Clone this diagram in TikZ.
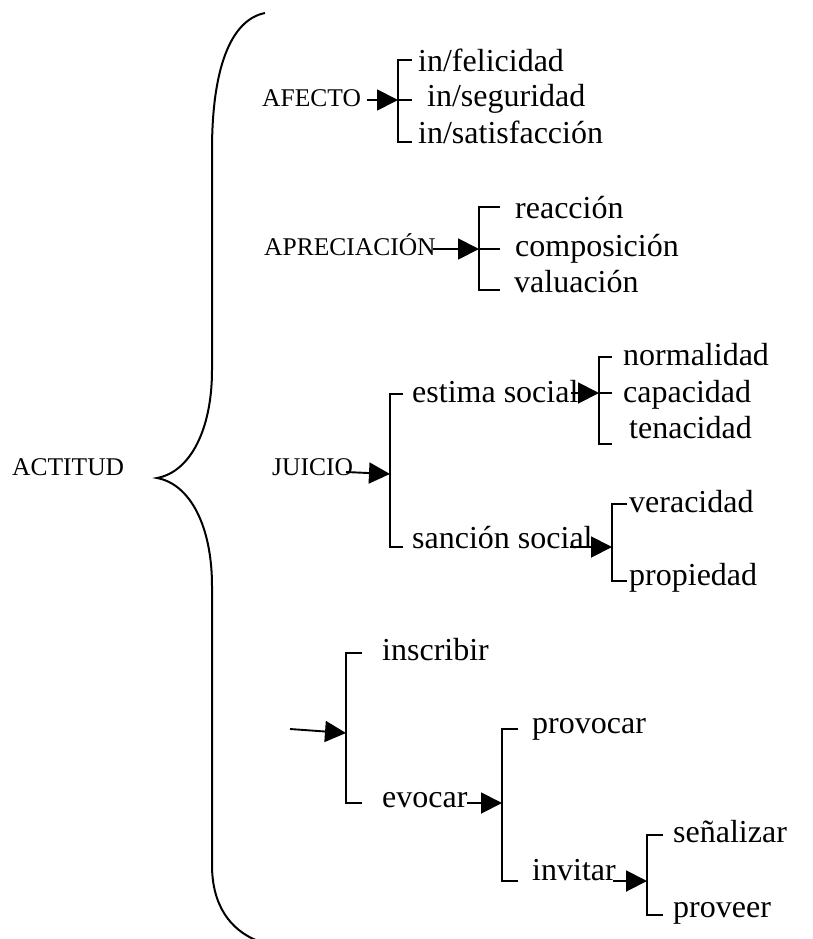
\documentclass[tikz,border=0pt]{standalone}
\usepackage{fontspec}
\setmainfont{Liberation Serif}
\usetikzlibrary{arrows.meta}
\begin{document}
\begin{tikzpicture}[x=1pt,y=-1pt,
  big/.style={font=\fontsize{32}{38}\selectfont, inner sep=0pt, anchor=base west},
  small/.style={font=\fontsize{25.5}{30}\selectfont, inner sep=0pt, anchor=base west},
  link/.style={line width=1.9pt, -{Triangle[length=21pt,width=21pt]}},
  brk/.style={line width=1.9pt},
  brace/.style={line width=2pt}]
\useasboundingbox (0,0) rectangle (812,939);

% the large brace
\draw[brace] (265,13) .. controls (230,20) and (212,70) .. (212,150)
  -- (212,370) .. controls (212,430) and (190,472) .. (157,478)
  .. controls (190,484) and (212,526) .. (212,586)
  -- (212,865) .. controls (212,905) and (230,930) .. (258,941);
\node[small] (actitud) at (12,475) {ACTITUD};

% AFECTO
\node[small] (afecto) at (262,107) {AFECTO};
\coordinate (afS) at (367,100);
\coordinate (afJ) at (398,100);
\draw[link] (afS) -- (afJ);
\draw[brk] (412,60) -- (398,60) -- (398,142) -- (412,142);
\draw[brk] (afJ) -- (412,100);
\node[big] (fel) at (418,72) {in/felicidad};
\node[big] (seg) at (427,107) {in/seguridad};
\node[big] (sat) at (418,143) {in/satisfacción};

% APRECIACIÓN
\node[small] (apre) at (264,255) {APRECIACIÓN};
\coordinate (apS) at (433,249);
\coordinate (apJ) at (479,249);
\draw[link] (apS) -- (apJ);
\draw[brk] (500,207) -- (479,207) -- (479,290) -- (500,290);
\draw[brk] (apJ) -- (500,249);
\node[big] (reac) at (515,218) {reacción};
\node[big] (comp) at (515,256) {composición};
\node[big] (valu) at (514,292) {valuación};

% JUICIO
\node[small] (juicio) at (272,475) {JUICIO};
\coordinate (juS) at (346,472);
\coordinate (juJ) at (390,474);
\draw[link] (juS) -- (juJ);
\draw[brk] (403,394) -- (390,394) -- (390,547) -- (403,547);
\node[big] (estima) at (412,402) {estima social};
\node[big] (sancion) at (412,548) {sanción social};

% estima social
\coordinate (esS) at (571,393);
\coordinate (esJ) at (599,393);
\draw[link] (esS) -- (esJ);
\draw[brk] (612,357) -- (599,357) -- (599,444) -- (612,444);
\draw[brk] (esJ) -- (612,393);
\node[big] (norm) at (623,365) {normalidad};
\node[big] (capa) at (623,402) {capacidad};
\node[big] (tena) at (629,438) {tenacidad};

% sanción social
\coordinate (saS) at (570,547);
\coordinate (saJ) at (612,547);
\draw[link] (saS) -- (saJ);
\draw[brk] (627,504) -- (612,504) -- (612,581) -- (627,581);
\node[big] (vera) at (629,512) {veracidad};
\node[big] (prop) at (629,585) {propiedad};

% inscribir / evocar
\coordinate (inS) at (290,729);
\coordinate (inJ) at (346,733);
\draw[link] (inS) -- (inJ);
\draw[brk] (362,653) -- (346,653) -- (346,803) -- (362,803);
\node[big] (inscr) at (382,660) {inscribir};
\node[big] (evoc) at (382,807) {evocar};

% evocar
\coordinate (evS) at (467,803);
\coordinate (evJ) at (502,803);
\draw[link] (evS) -- (evJ);
\draw[brk] (518,729) -- (502,729) -- (502,881) -- (518,881);
\node[big] (provo) at (532,733) {provocar};
\node[big] (invi) at (532,880) {invitar};

% invitar
\coordinate (ivS) at (613,881);
\coordinate (ivJ) at (647,881);
\draw[link] (ivS) -- (ivJ);
\draw[brk] (663,835) -- (647,835) -- (647,915) -- (663,915);
\node[big] (sena) at (673,842) {señalizar};
\node[big] (prove) at (673,917) {proveer};
\end{tikzpicture}
\end{document}
